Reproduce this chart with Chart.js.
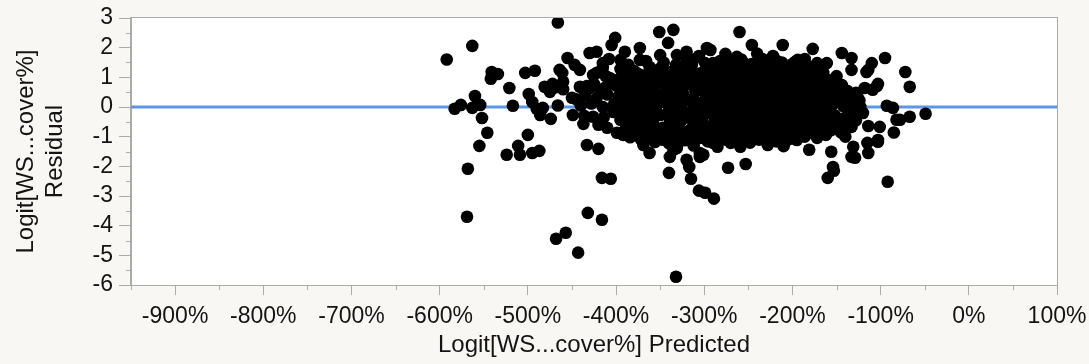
<!DOCTYPE html>
<html>
<head>
<meta charset="utf-8">
<title>Residual by Predicted</title>
<script src="https://cdn.jsdelivr.net/npm/chart.js@4.4.1/dist/chart.umd.min.js"></script>
<style>
  html, body { margin: 0; padding: 0; background: #f8f7f3; }
  #wrap { width: 1089px; height: 364px; position: relative; }
</style>
</head>
<body>
<div id="wrap"><canvas id="chart"></canvas></div>
<script>
// Axis ticks (x in percent of logit units)
const xTickValues = [-900, -800, -700, -600, -500, -400, -300, -200, -100, 0, 100];
const xMinorValues = [-950, -850, -750, -650, -550, -450, -350, -250, -150, -50, 50];
const yTickValues = [-6, -5, -4, -3, -2, -1, 0, 1, 2, 3];
const yMinorValues = [-5.5, -4.5, -3.5, -2.5, -1.5, -0.5, 0.5, 1.5, 2.5];

// Residual points as [predicted %, residual]
const leftWing = [
  [-592,1.6],[-583,-0.06],[-576,0.07],[-563,2.06],[-560,0.37],[-563,-0.03],[-554,0.07],
  [-552,-0.37],[-546,-0.87],[-555,-1.31],[-568,-2.08],[-541,1.18],[-534,1.11],[-542,0.95],
  [-521,0.64],[-517,0.04],[-503,1.15],[-492,1.22],[-499,0.44],[-495,0.17],[-490,-0.06],
  [-483,-0.03],[-486,-0.27],[-500,-0.94],[-511,-1.31],[-524,-1.61],[-509,-1.61],[-495,-1.55],
  [-487,-1.48],[-481,0.68],[-472,0.78],[-475,0.51],[-469,0.66],[-460,0.85],[-461,1.15],
  [-466,2.85],[-474,-0.4],[-466,0.05],[-464,1.25],[-455,1.65],[-447,1.42],[-441,1.25],
  [-460,0.6],[-450,0.31],[-449,-0.27],[-437,-0.57]
];

const lowOutliers = [
  [-569,-3.7],[-468,-4.44],[-457,-4.24],[-443,-4.91],[-433,-1.28],[-420,-1.41],[-416,-2.39],
  [-406,-2.42],[-432,-3.57],[-416,-3.8],[-332,-5.72],[-340,-2.22],[-317,-2.02],[-315,-2.42],
  [-306,-2.82],[-299,-2.89],[-289,-3.09],[-273,-2.05],[-253,-1.92],[-228,-1.28],[-181,-1.44],
  [-156,-1.51],[-160,-2.39],[-153,-2.15],[-131,-1.34],[-129,-1.71],[-114,-1.55],[-103,-1.17],
  [-92,-2.52],[-339,-1.68],[-305,-1.68],[-335,-1.44],[-206,-1.11],[-195,-1.11],[-301,-1.61],
  [-133,-1.68],[-154,-2.02],[-362,-1.55],[-369,-1.28],[-320,-1.78],[-305,-1.55],[-331,-1.38],
  [-285,-1.34],[-270,-1.21],[-259,-1.34],[-290,-1.21]
];

const rightWing = [
  [-72,1.18],[-67,0.68],[-67,-0.33],[-49,-0.23],[-78,-0.43],[-95,1.65],[-93,0.04],[-86,-0.03],
  [-82,-0.43],[-85,-0.86],[-101,-0.67],[-103,-1.11],[-114,-0.64],[-115,-1.21],[-133,-0.67],
  [-110,1.48],[-114,1.25],[-118,0.64],[-109,0.58],[-103,0.78],[-133,1.25],[-133,1.65],
  [-144,1.82],[-123,0.0],[-120,-0.2],[-104,0.71],[-144,0.74],[-116,1.18],[-140,0.15],
  [-136,-0.12],[-128,-0.45],[-142,-0.5],[-124,0.22],[-138,0.42],[-145,-0.85],[-140,-1.0],
  [-150,-0.67],[-135,-0.67]
];

const upperBand = [
  [-335,2.6],[-260,2.53],[-341,2.16],[-246,2.09],[-211,2.09],[-177,1.96],[-222,1.72],[-296,1.96],
  [-276,1.79],[-263,1.69],[-331,1.75],[-194,1.59],[-203,1.35],[-161,1.48],[-172,1.48],[-351,2.53],
  [-401,2.33],[-405,2.09],[-373,1.99],[-390,1.86],[-430,1.82],[-422,1.86],[-350,1.75],[-297,1.99],
  [-415,1.48],[-395,1.59],[-373,1.59],[-362,1.35],[-314,1.42],[-301,1.18],[-290,1.48],[-293,1.92],
  [-299,1.48],[-197,1.52],[-165,1.15],[-191,1.01],[-206,0.91],[-217,0.81],[-230,0.91],[-244,1.25],
  [-256,1.15],[-270,1.25],[-285,1.15],[-426,1.08],[-415,1.32],[-282,1.55],[-268,1.6],[-255,1.48],
  [-240,1.52],[-226,1.42],[-212,1.5],[-312,1.6],
  [-408,1.62],[-386,1.42],[-366,1.55],[-346,1.5],[-332,1.42],[-320,1.56],[-306,1.72],[-276,1.45],
  [-258,1.6],[-246,1.45],[-234,1.62],[-218,1.56],[-200,1.45],[-184,1.4],[-168,1.3],[-186,1.62],
  [-240,1.8],[-320,1.86]
];

const coreCloud = [
  [-422,1.15],[-407,0.98],[-388,0.74],[-376,0.68],[-365,0.91],[-350,0.85],[-335,1.01],[-320,0.98],
  [-308,0.74],[-293,0.68],[-441,0.68],[-430,0.64],[-433,0.71],[-435,0.41],[-418,0.58],[-426,-0.33],
  [-415,0.0],[-403,-0.17],[-395,-0.43],[-410,-0.7],[-399,-0.87],[-382,-0.67],[-392,-0.94],[-376,-0.94],
  [-367,-0.43],[-384,0.34],[-373,0.31],[-362,0.17],[-350,0.31],[-343,0.14],[-331,0.34],[-318,0.24],
  [-305,0.14],[-290,0.24],[-350,-0.27],[-339,-0.43],[-347,-0.7],[-343,-1.04],[-316,-0.77],[-305,-1.04],
  [-293,-0.67],[-297,-0.2],[-320,-0.33],[-313,-0.1],[-205,-1.01],[-177,-0.87],[-165,-0.77],[-225,-0.87],
  [-244,-0.77],[-267,-0.67],[-282,-0.77],[-293,-0.87],[-177,0.58],
  [-395,1.28],[-380,1.22],[-350,1.3],[-338,1.18],[-325,1.32],[-280,1.36],[-262,1.3],[-250,1.38],
  [-235,1.22],[-222,1.3],[-210,1.18],[-186,1.26],[-178,1.12],
  [-412,1.05],[-398,0.92],[-385,1.02],[-372,1.08],[-358,1.04],[-345,0.98],[-328,0.88],[-312,1.05],
  [-300,0.94],[-288,1.0],[-276,0.92],[-262,0.98],[-248,0.88],[-238,1.02],[-222,0.96],[-212,1.06],
  [-200,0.92],[-186,0.86],[-172,1.0],[-158,0.9],[-150,1.04],
  [-425,0.78],[-412,0.66],[-400,0.72],[-362,0.62],[-340,0.7],[-326,0.6],[-316,0.76],[-302,0.58],
  [-282,0.72],[-270,0.62],[-258,0.7],[-246,0.6],[-234,0.72],[-220,0.62],[-208,0.68],[-196,0.58],
  [-188,0.72],[-168,0.66],[-158,0.6],[-150,0.72],[-138,0.55],[-128,0.48],
  [-445,0.26],[-422,0.3],[-410,0.42],[-397,0.36],[-356,0.46],[-324,0.44],[-298,0.4],[-280,0.34],
  [-268,0.44],[-255,0.3],[-242,0.4],[-230,0.32],[-218,0.44],[-205,0.3],[-194,0.38],[-182,0.28],
  [-170,0.4],[-160,0.3],[-148,0.36],[-136,0.26],[-126,0.32],
  [-440,0.05],[-428,0.12],[-402,0.1],[-390,0.02],[-378,0.08],[-366,-0.02],[-354,0.05],[-336,0.02],
  [-326,-0.04],[-286,0.04],[-274,0.1],[-262,-0.02],[-250,0.08],[-238,0.0],[-226,0.12],[-214,0.02],
  [-202,0.1],[-190,-0.02],[-178,0.06],[-166,0.0],[-154,0.1],[-142,0.02],[-132,0.08],[-130,-0.05],
  [-436,-0.3],[-414,-0.35],[-385,-0.22],[-376,-0.36],[-360,-0.2],[-330,-0.28],[-306,-0.38],[-284,-0.3],
  [-272,-0.22],[-260,-0.36],[-248,-0.26],[-236,-0.4],[-224,-0.24],[-212,-0.34],[-200,-0.22],[-188,-0.36],
  [-176,-0.26],[-164,-0.4],[-152,-0.28],[-140,-0.36],[-128,-0.24],
  [-420,-0.6],[-388,-0.56],[-372,-0.64],[-358,-0.55],[-330,-0.62],[-310,-0.52],[-278,-0.55],[-254,-0.6],
  [-240,-0.52],[-230,-0.66],[-214,-0.56],[-202,-0.68],[-190,-0.55],[-178,-0.62],[-160,-0.52],[-146,-0.5],
  [-385,-0.85],[-365,-0.98],[-355,-0.86],[-326,-0.9],[-312,-1.0],[-278,-0.98],[-262,-0.9],[-250,-1.0],
  [-236,-0.92],[-214,-0.98],[-196,-0.88],[-186,-1.0],[-162,-0.94],
  [-356,-1.18],[-340,-1.22],[-322,-1.12],[-312,-1.3],[-296,-1.16],[-276,-1.1],[-262,-1.12],[-248,-1.2],
  [-238,-1.1],[-218,-1.16],[-210,-1.32]
];

// Second pass through the dense middle of the cloud
const coreInfill = [
  [-390,1.18],[-376,1.14],[-362,1.2],[-344,1.1],[-330,1.16],[-316,1.2],
  [-306,1.12],[-294,1.22],[-278,1.1],[-266,1.18],[-250,1.12],[-240,1.2],[-228,1.1],[-216,1.22],
  [-198,1.14],[-190,1.24],[-176,1.3],[-166,1.26],
  [-392,0.8],[-380,0.88],[-370,0.8],[-356,0.76],[-342,0.84],
  [-330,0.78],[-314,0.86],[-302,0.82],[-290,0.86],[-280,0.8],[-268,0.84],[-254,0.8],[-240,0.86],
  [-228,0.78],[-214,0.84],[-202,0.78],[-192,0.84],[-180,0.78],[-164,0.84],
  [-394,0.5],[-380,0.52],[-368,0.46],[-356,0.58],[-344,0.5],
  [-334,0.52],[-310,0.52],[-296,0.5],[-286,0.56],[-274,0.5],[-262,0.54],[-250,0.48],[-238,0.56],
  [-226,0.48],[-212,0.54],[-200,0.46],[-184,0.5],[-174,0.52],[-162,0.46],[-152,0.5],
  [-396,0.18],[-368,0.22],[-356,0.14],[-338,0.18],[-326,0.22],
  [-312,0.2],[-300,0.16],[-284,0.18],[-272,0.22],[-260,0.14],[-248,0.2],[-236,0.16],[-222,0.22],
  [-210,0.16],[-198,0.2],[-186,0.14],[-174,0.2],[-160,0.16],[-150,0.22],
  [-392,-0.12],[-380,-0.18],[-370,-0.1],[-340,-0.12],[-330,-0.18],
  [-304,-0.12],[-292,-0.08],[-280,-0.16],[-266,-0.1],[-254,-0.16],[-242,-0.1],[-230,-0.16],[-218,-0.1],
  [-206,-0.14],[-194,-0.08],[-182,-0.16],[-170,-0.12],[-158,-0.16],
  [-384,-0.46],[-372,-0.5],[-360,-0.42],[-326,-0.46],[-314,-0.42],
  [-302,-0.5],[-288,-0.44],[-276,-0.4],[-266,-0.48],[-254,-0.44],[-242,-0.48],[-230,-0.42],[-220,-0.48],
  [-206,-0.44],[-196,-0.46],[-184,-0.42],[-170,-0.5],[-158,-0.44],
  [-390,-0.78],[-376,-0.8],[-364,-0.72],[-352,-0.82],[-338,-0.78],[-328,-0.74],
  [-304,-0.76],[-290,-0.78],[-272,-0.8],[-258,-0.76],[-232,-0.74],[-220,-0.78],[-208,-0.8],[-196,-0.74],
  [-186,-0.78],[-170,-0.72],[-156,-0.78],
  [-384,-1.02],[-372,-1.08],[-360,-1.04],[-348,-1.1],[-334,-1.04],[-324,-1.06],[-296,-1.04],
  [-284,-1.08],[-270,-1.02],[-258,-1.04],[-244,-1.06],[-232,-1.02],[-222,-1.06],[-202,-1.06],[-172,-1.04]
];

const residualPoints = [...leftWing, ...lowOutliers, ...rightWing, ...upperBand, ...coreCloud, ...coreInfill]
  .map(([x, y]) => ({ x, y }));

const FONT = "'Liberation Sans', Arial, Helvetica, sans-serif";
const AXIS_GREY = '#ababab';
const TEXT = '#141414';

// White plot panel, outer frame and half-step minor ticks
const framePlugin = {
  id: 'frame',
  beforeDraw(chart) {
    const { ctx, chartArea: a } = chart;
    ctx.save();
    ctx.fillStyle = '#ffffff';
    ctx.fillRect(a.left, a.top, a.right - a.left, a.bottom - a.top);
    ctx.restore();
  },
  afterDraw(chart) {
    const { ctx, chartArea: a, scales } = chart;
    ctx.save();
    ctx.strokeStyle = AXIS_GREY;
    ctx.lineWidth = 1;
    ctx.strokeRect(Math.round(a.left) - 0.5, Math.round(a.top) - 0.5,
      Math.round(a.right - a.left) + 1, Math.round(a.bottom - a.top) + 1);
    ctx.beginPath();
    xMinorValues.forEach(v => {
      const px = Math.round(scales.x.getPixelForValue(v)) + 0.5;
      ctx.moveTo(px, a.bottom);
      ctx.lineTo(px, a.bottom + 5);
    });
    yMinorValues.forEach(v => {
      const py = Math.round(scales.y.getPixelForValue(v)) + 0.5;
      ctx.moveTo(a.left - 5, py);
      ctx.lineTo(a.left, py);
    });
    ctx.stroke();
    ctx.restore();
  }
};

new Chart(document.getElementById('chart'), {
  type: 'scatter',
  data: {
    datasets: [
      {
        label: 'Residual',
        data: residualPoints,
        backgroundColor: '#000000',
        borderWidth: 0,
        pointRadius: 6.3,
        pointHoverRadius: 6.3,
        order: 0
      },
      {
        type: 'line',
        label: 'Zero',
        data: [{ x: -950, y: 0 }, { x: 100, y: 0 }],
        borderColor: '#5b97e6',
        borderWidth: 3,
        pointRadius: 0,
        order: 1
      }
    ]
  },
  options: {
    responsive: true,
    maintainAspectRatio: false,
    animation: false,
    devicePixelRatio: 1,
    layout: { padding: { top: 18, right: 32, left: 0, bottom: 0 } },
    plugins: { legend: { display: false }, tooltip: { enabled: false } },
    scales: {
      x: {
        type: 'linear',
        min: -950,
        max: 100,
        afterBuildTicks: s => { s.ticks = xTickValues.map(v => ({ value: v })); },
        afterFit: s => { s.height = 79; s.paddingLeft = 0; s.paddingRight = 0; },
        ticks: {
          callback: v => v + '%',
          font: { family: FONT, size: 23 },
          color: TEXT,
          maxRotation: 0,
          autoSkip: false,
          padding: 8
        },
        grid: { drawOnChartArea: false, drawTicks: true, tickLength: 10, color: AXIS_GREY },
        border: { display: true, color: AXIS_GREY },
        title: {
          display: true,
          text: 'Logit[WS...cover%] Predicted',
          font: { family: FONT, size: 24 },
          color: TEXT,
          padding: { top: 0, bottom: 4 }
        }
      },
      y: {
        type: 'linear',
        min: -6,
        max: 3,
        afterBuildTicks: s => { s.ticks = yTickValues.map(v => ({ value: v })); },
        afterFit: s => { s.width = 131; s.paddingTop = 0; s.paddingBottom = 0; },
        ticks: {
          callback: v => String(v),
          font: { family: FONT, size: 23 },
          color: TEXT,
          autoSkip: false,
          padding: 6
        },
        grid: { drawOnChartArea: false, drawTicks: true, tickLength: 12, color: AXIS_GREY },
        border: { display: true, color: AXIS_GREY },
        title: {
          display: true,
          text: ['Logit[WS...cover%]', 'Residual'],
          font: { family: FONT, size: 24 },
          color: TEXT,
          padding: { top: 12, bottom: 0 }
        }
      }
    }
  },
  plugins: [framePlugin]
});
</script>
</body>
</html>
